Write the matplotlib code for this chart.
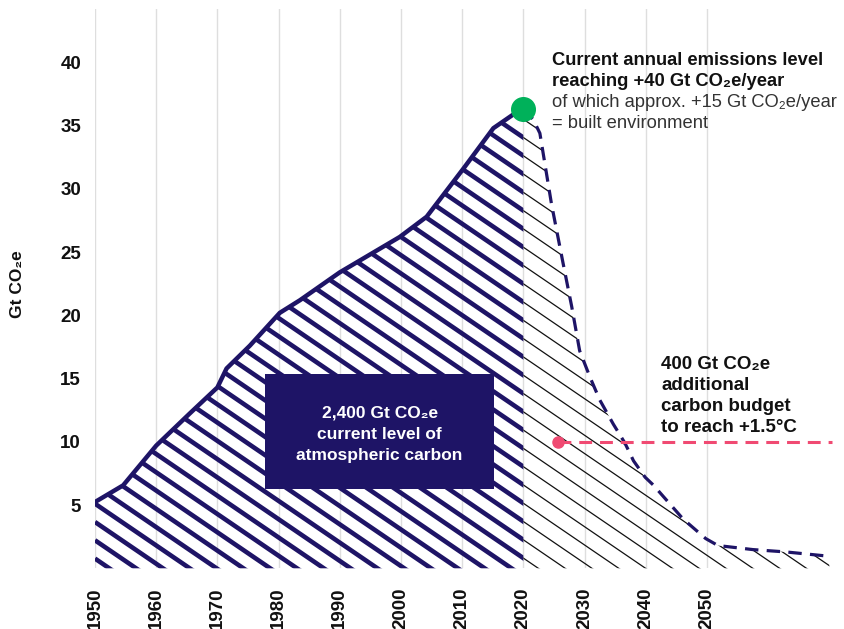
import numpy as np
import matplotlib.pyplot as plt
from matplotlib.patches import Polygon, Rectangle
from matplotlib.collections import LineCollection

# historic emissions (Gt CO2e)
years_hist = [1950, 1954.6, 1960, 1965.5, 1970, 1971.5, 1975.3, 1980.2, 1983.5,
              1990, 1999.8, 2004.2, 2010.2, 2015.1, 2018.4, 2020]
vals_hist = [5.24, 6.56, 9.7, 12.25, 14.3, 15.8, 17.6, 20.2, 21.2,
             23.4, 26.2, 27.8, 31.6, 34.8, 35.9, 36.3]

# projected pathway
years_proj = [2020, 2021.6, 2022.7, 2024.6, 2026.5, 2027.9, 2029.2, 2030.9, 2032.5,
              2034.7, 2036.6, 2038, 2039.9, 2041.2, 2046.1, 2049.8, 2051.8,
              2057.5, 2063, 2070]
vals_proj = [36.3, 35.5, 34.4, 28.8, 24.1, 20.7, 17.2, 15.1, 13.3,
             11.4, 9.9, 8.5, 7.2, 6.6, 3.9, 2.35, 1.8,
             1.48, 1.29, 0.95]

budget_start = 2025.7
budget_level = 10
budget_end = 2070.5

xticks = list(range(1950, 2060, 10))
yticks = [5, 10, 15, 20, 25, 30, 35, 40]

note_bold = ["Current annual emissions level", "reaching +40 Gt CO\u2082e/year"]
note_reg = ["of which approx. +15 Gt CO\u2082e/year", "= built environment"]
box_lines = ["2,400 Gt CO\u2082e", "current level of", "atmospheric carbon"]
budget_lines = ["400 Gt CO\u2082e", "additional", "carbon budget", "to reach +1.5\u00b0C"]

NAVY = "#1e1466"
GREEN = "#00b15a"
PINK = "#f04a72"
FONT = ["Liberation Sans", "DejaVu Sans"]

plt.rcParams["font.family"] = FONT

W, H = 844, 629
fig = plt.figure(figsize=(W / 100, H / 100), dpi=100)
ax = fig.add_axes([0.11256, 0.0965, 0.8773, 0.8887])
ax.set_xlim(1950, 2071)
ax.set_ylim(0, 44.2)


def px(x, y):
    return x / W, 1 - y / H


# grid
for s in ax.spines.values():
    s.set_visible(False)
ax.set_xticks(xticks)
ax.set_yticks(yticks)
ax.xaxis.grid(True, color="#dedede", lw=1.0)
ax.set_axisbelow(True)
ax.tick_params(length=0)
ax.tick_params(axis="x", pad=13.5, labelsize=13.5, rotation=90)
ax.tick_params(axis="y", pad=10, labelsize=13.5)
for lab in ax.get_xticklabels() + ax.get_yticklabels():
    lab.set_fontweight("bold")
    lab.set_color("#111111")

# clip shapes
hist_poly = Polygon(list(zip(years_hist, vals_hist)) + [(2020, 0), (1950, 0)],
                    closed=True, facecolor="none", edgecolor="none")
proj_poly = Polygon(list(zip(years_proj, vals_proj)) + [(years_proj[-1], 0), (2020, 0)],
                    closed=True, facecolor="none", edgecolor="none")
ax.add_patch(hist_poly)
ax.add_patch(proj_poly)

# diagonal hatching
slope = 0.330
step = 1.446
offsets = 0.77 + step * np.arange(0, 62)
segs = [[(1950, c), (2071, c - slope * 121)] for c in offsets]

thick = LineCollection(segs, colors=NAVY, linewidths=3.3, zorder=2)
thick.set_clip_path(hist_poly)
ax.add_collection(thick)

thin = LineCollection(segs, colors="#111111", linewidths=0.9, zorder=2)
thin.set_clip_path(proj_poly)
ax.add_collection(thin)

# outlines
ax.plot(years_hist, vals_hist, color=NAVY, lw=3.2, solid_capstyle="round",
        solid_joinstyle="round", zorder=3)
ax.plot(years_proj, vals_proj, color=NAVY, lw=2.3, dashes=(4.2, 2.6), zorder=3)

# budget line
ax.plot([budget_start, budget_end], [budget_level, budget_level], color=PINK, lw=2.2,
        dashes=(4.2, 2.6), zorder=3)
ax.plot(budget_start, budget_level, "o", color=PINK, ms=8, zorder=4)

# current level dot
ax.plot(years_hist[-1], vals_hist[-1], "o", color=GREEN, ms=17, zorder=5)

# dark box
bx0, by0 = px(265, 489.3)
bx1, by1 = px(494.3, 374)
fig.patches.append(Rectangle((bx0, by0), bx1 - bx0, by1 - by0, transform=fig.transFigure,
                             facecolor=NAVY, edgecolor="none", zorder=6))
for i, t in enumerate(box_lines):
    fig.text(*px(379.6, 417.3 + 21.3 * i), t, color="white", fontsize=12.5,
             fontweight="bold", ha="center", va="baseline", zorder=7)

# annotations
for i, t in enumerate(note_bold):
    fig.text(*px(552, 65 + 21 * i), t, color="#111111", fontsize=13.2,
             fontweight="bold", ha="left", va="baseline")
for i, t in enumerate(note_reg):
    fig.text(*px(552, 107 + 21 * i), t, color="#333333", fontsize=13.2,
             ha="left", va="baseline")
for i, t in enumerate(budget_lines):
    fig.text(*px(661, 369.3 + 20.8 * i), t, color="#111111", fontsize=13.5,
             fontweight="bold", ha="left", va="baseline")

fig.text(*px(18, 284), "Gt CO\u2082e", rotation=90, fontsize=12.5, fontweight="bold",
         ha="center", va="center", color="#111111")

fig.savefig("out.png", dpi=100)
